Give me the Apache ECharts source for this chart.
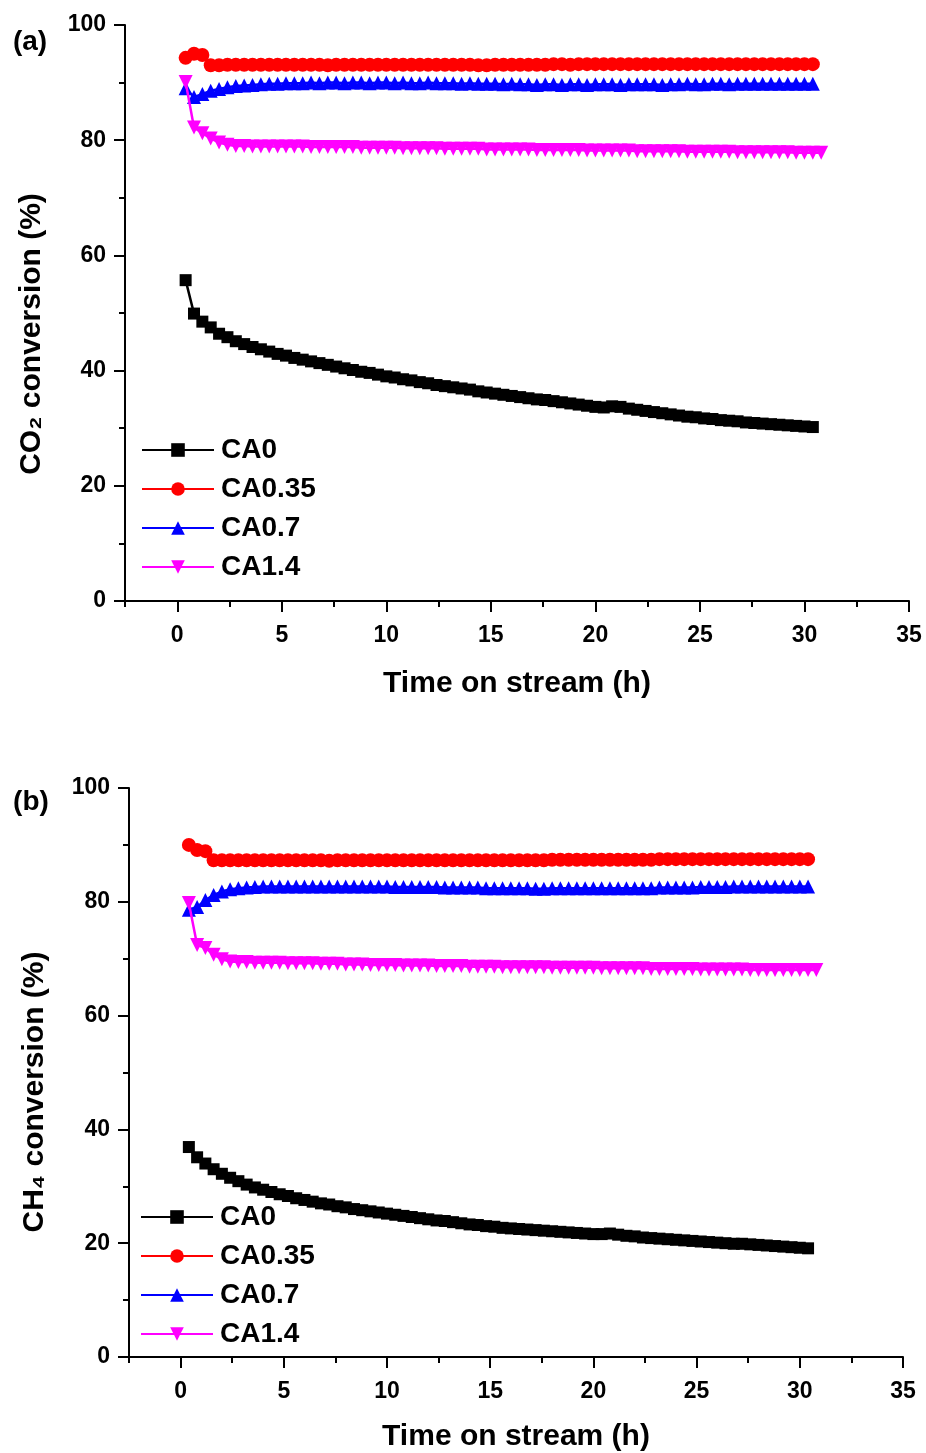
<!DOCTYPE html>
<html><head><meta charset="utf-8">
<script src="https://cdn.jsdelivr.net/npm/echarts@6/dist/echarts.min.js"></script>
<style>html,body{margin:0;padding:0;background:#fff}#c{width:926px;height:1453px}</style>
</head><body><div id="c"></div>
<script>
// Time on stream (h)
const time = [0.4,0.8,1.2,1.6,2.0,2.4,2.8,3.2,3.6,4.0,4.4,4.8,5.2,5.6,6.0,6.4,6.8,7.2,7.6,8.0,
8.4,8.8,9.2,9.6,10.0,10.4,10.8,11.2,11.6,12.0,12.4,12.8,13.2,13.6,14.0,14.4,14.8,15.2,15.6,16.0,
16.4,16.8,17.2,17.6,18.0,18.4,18.8,19.2,19.6,20.0,20.4,20.8,21.2,21.6,22.0,22.4,22.8,23.2,23.6,24.0,
24.4,24.8,25.2,25.6,26.0,26.4,26.8,27.2,27.6,28.0,28.4,28.8,29.2,29.6,30.0,30.4,30.8];

const seriesNames = ['CA0','CA0.35','CA0.7','CA1.4'];

// (a) CO2 conversion (%)
const co2_CA0 = [55.7,49.9,48.5,47.5,46.4,45.8,45.1,44.6,44.1,43.7,
43.3,42.9,42.6,42.2,41.9,41.6,41.3,41.0,40.7,40.4,
40.1,39.8,39.6,39.3,39.0,38.8,38.5,38.3,38.0,37.8,
37.5,37.3,37.1,36.9,36.7,36.4,36.2,36.0,35.8,35.6,
35.4,35.2,35.0,34.9,34.7,34.5,34.3,34.1,33.9,33.7,
33.6,33.8,33.7,33.4,33.2,33.0,32.8,32.6,32.4,32.2,
32.0,31.9,31.7,31.6,31.4,31.3,31.2,31.0,30.9,30.8,
30.7,30.6,30.5,30.4,30.3,30.2];
const co2_CA035 = [94.3,95.0,94.8,93.0,93.0,93.1,93.1,93.1,93.1,93.1,
93.1,93.1,93.1,93.1,93.1,93.1,93.1,93.0,93.1,93.1,
93.1,93.1,93.1,93.1,93.1,93.1,93.1,93.1,93.1,93.1,
93.1,93.1,93.1,93.1,93.1,93.0,93.0,93.1,93.1,93.1,
93.1,93.1,93.1,93.1,93.2,93.2,93.1,93.2,93.2,93.2,
93.2,93.2,93.2,93.2,93.2,93.2,93.2,93.2,93.2,93.2,
93.2,93.2,93.2,93.2,93.2,93.2,93.2,93.2,93.2,93.2,
93.2,93.2,93.2,93.2,93.2,93.2];
const co2_CA07 = [89.0,87.5,88.0,88.6,88.9,89.2,89.4,89.5,89.6,89.7,
89.8,89.8,89.9,89.9,89.9,90.0,89.9,90.0,90.0,89.9,
90.0,90.0,89.9,90.0,90.0,89.9,90.0,89.9,89.9,90.0,
89.9,89.9,89.9,89.8,89.9,89.8,89.8,89.8,89.7,89.8,
89.7,89.7,89.6,89.7,89.7,89.6,89.7,89.7,89.6,89.7,
89.7,89.7,89.6,89.7,89.7,89.7,89.7,89.6,89.7,89.7,
89.8,89.7,89.7,89.8,89.8,89.7,89.8,89.8,89.8,89.8,
89.8,89.8,89.8,89.8,89.8,89.8];
const co2_CA14 = [90.1,82.2,81.2,80.3,79.6,79.2,79.0,79.0,78.9,78.9,
78.9,78.9,78.9,78.9,78.9,78.8,78.8,78.8,78.8,78.8,
78.8,78.7,78.7,78.7,78.7,78.7,78.6,78.6,78.6,78.6,
78.6,78.5,78.5,78.5,78.5,78.5,78.4,78.4,78.4,78.4,
78.4,78.4,78.3,78.3,78.3,78.3,78.3,78.3,78.2,78.2,
78.2,78.2,78.2,78.2,78.1,78.1,78.1,78.1,78.1,78.1,
78.0,78.0,78.0,78.0,78.0,78.0,77.9,77.9,77.9,77.9,
77.9,77.9,77.9,77.8,77.8,77.8,77.8];

// (b) CH4 conversion (%)
const ch4_CA0 = [36.9,35.1,34.0,33.0,32.2,31.5,30.9,30.3,29.8,29.4,
29.0,28.6,28.3,27.9,27.6,27.3,27.0,26.8,26.5,26.3,
26.0,25.8,25.6,25.4,25.2,25.0,24.8,24.6,24.4,24.2,
24.0,23.9,23.7,23.5,23.3,23.2,23.0,22.9,22.7,22.6,
22.5,22.4,22.3,22.2,22.1,22.0,21.9,21.8,21.7,21.6,
21.6,21.7,21.5,21.3,21.2,21.0,20.9,20.8,20.7,20.6,
20.5,20.4,20.3,20.2,20.1,20.0,19.9,19.9,19.8,19.7,
19.6,19.5,19.4,19.3,19.2,19.1];
const ch4_CA035 = [90.0,89.1,88.9,87.3,87.3,87.3,87.3,87.3,87.3,87.3,
87.3,87.3,87.3,87.3,87.3,87.3,87.3,87.2,87.3,87.3,
87.3,87.3,87.3,87.3,87.3,87.3,87.3,87.3,87.3,87.3,
87.3,87.3,87.3,87.3,87.3,87.3,87.3,87.3,87.3,87.3,
87.3,87.3,87.3,87.3,87.4,87.4,87.4,87.4,87.4,87.4,
87.4,87.4,87.4,87.4,87.4,87.4,87.4,87.5,87.5,87.5,
87.5,87.5,87.5,87.5,87.5,87.5,87.5,87.5,87.5,87.5,
87.5,87.5,87.5,87.5,87.5,87.5];
const ch4_CA07 = [78.6,79.1,80.3,81.2,81.8,82.2,82.4,82.5,82.6,82.7,
82.7,82.7,82.7,82.7,82.7,82.7,82.7,82.7,82.7,82.7,
82.7,82.7,82.7,82.7,82.7,82.6,82.6,82.6,82.6,82.6,
82.6,82.5,82.5,82.5,82.5,82.5,82.4,82.4,82.4,82.4,
82.4,82.4,82.3,82.3,82.4,82.4,82.4,82.4,82.4,82.4,
82.4,82.4,82.4,82.4,82.4,82.4,82.4,82.5,82.5,82.5,
82.5,82.5,82.6,82.6,82.6,82.6,82.7,82.7,82.7,82.7,
82.7,82.7,82.7,82.7,82.7,82.7];
const ch4_CA14 = [79.8,72.4,71.9,70.7,69.9,69.5,69.4,69.4,69.3,69.3,
69.3,69.3,69.2,69.2,69.2,69.2,69.1,69.1,69.1,69.0,
69.0,69.0,68.9,68.9,68.9,68.9,68.8,68.8,68.8,68.8,
68.7,68.7,68.7,68.7,68.6,68.6,68.6,68.6,68.5,68.5,
68.5,68.5,68.5,68.5,68.4,68.4,68.4,68.4,68.4,68.4,
68.3,68.3,68.3,68.3,68.3,68.3,68.2,68.2,68.2,68.2,
68.2,68.2,68.1,68.1,68.1,68.1,68.1,68.1,68.0,68.0,
68.0,68.0,68.0,68.0,68.0,68.0,68.0];

// Tick values
const xMajorTicks = [0,5,10,15,20,25,30,35];
const xMinorTicks = [-2.5,2.5,7.5,12.5,17.5,22.5,27.5,32.5];

const FONT = '"Liberation Sans", Arial, Helvetica, sans-serif';
const colors = ['#000000','#ff0000','#0000ff','#ff00ff'];
const symbols = ['rect','circle','triangle','triangle'];
const symSizes = [12,14,14,14];
const symRot = [0,0,0,180];

function pairs(vals){ return vals.map((v,i)=>[time[i], v]); }

function mkSeries(vals, k, xi, yi){
  return {
    name: seriesNames[k], type:'line', xAxisIndex: xi, yAxisIndex: yi,
    data: pairs(vals), symbol: symbols[k], symbolSize: symSizes[k], symbolRotate: symRot[k],
    showAllSymbol: true, showSymbol: true,
    lineStyle:{color: colors[k], width: 2.5}, itemStyle:{color: colors[k]},
    z: 2 + k, animation:false, clip:false
  };
}

const lineSt = {color:'#000', width:2};
function xMain(g){
  return {type:'value', gridIndex:g, min:-2.5, max:35, position:'bottom',
    axisLine:{show:true, onZero:false, lineStyle:lineSt},
    axisTick:{show:true, customValues:xMajorTicks, length:11, lineStyle:lineSt},
    axisLabel:{show:true, customValues:xMajorTicks, margin:23, color:'#000', fontSize:23, fontWeight:'bold', fontFamily:FONT},
    splitLine:{show:false}};
}
function xMinor(g){
  return {type:'value', gridIndex:g, min:-2.5, max:35, position:'bottom', offset:0,
    axisLine:{show:false, onZero:false},
    axisTick:{show:true, customValues:xMinorTicks, length:6, lineStyle:lineSt},
    axisLabel:{show:false}, splitLine:{show:false}};
}
function yAx(g){
  return {type:'value', gridIndex:g, min:0, max:100, interval:20,
    axisLine:{show:true, onZero:false, lineStyle:lineSt},
    axisTick:{show:true, length:11, lineStyle:lineSt},
    minorTick:{show:true, splitNumber:2, length:6, lineStyle:lineSt},
    axisLabel:{show:true, margin:19, color:'#000', fontSize:23, fontWeight:'bold', fontFamily:FONT},
    splitLine:{show:false}, minorSplitLine:{show:false}};
}
function legendAt(left, top){
  return {orient:'vertical', left:left, top:top, itemWidth:72, itemHeight:17, itemGap:11,
    data: seriesNames,
    textStyle:{fontSize:28, fontWeight:'bold', fontFamily:FONT, color:'#000', padding:[0,0,0,2]}};
}
function txt(text, x, y, size, rot){
  return {type:'text', x:x, y:y, rotation: rot||0,
    style:{text:text, font:'bold '+size+'px '+FONT, fill:'#000',
      textAlign:'center', textVerticalAlign:'middle', align:'center', verticalAlign:'middle'}};
}

const chart = echarts.init(document.getElementById('c'), null, {renderer:'canvas'});
chart.setOption({
  animation:false,
  backgroundColor:'#fff',
  grid:[
    {left:125, top:25, width:784, height:576},
    {left:129, top:788, width:774, height:569}
  ],
  xAxis:[xMain(0), xMinor(0), xMain(1), xMinor(1)],
  yAxis:[yAx(0), yAx(1)],
  legend:[legendAt(136, 431), legendAt(135, 1198)],
  series:[
    mkSeries(co2_CA0,0,0,0), mkSeries(co2_CA035,1,0,0), mkSeries(co2_CA07,2,0,0), mkSeries(co2_CA14,3,0,0),
    mkSeries(ch4_CA0,0,2,1), mkSeries(ch4_CA035,1,2,1), mkSeries(ch4_CA07,2,2,1), mkSeries(ch4_CA14,3,2,1)
  ],
  graphic:[
    txt('(a)', 30, 42, 28),
    txt('(b)', 31, 802, 28),
    txt('Time on stream (h)', 517, 684, 30),
    txt('Time on stream (h)', 516, 1437, 30),
    txt('CO₂ conversion (%)', 32, 334, 30, Math.PI/2),
    txt('CH₄ conversion (%)', 35, 1092, 30, Math.PI/2)
  ]
});
</script></body></html>
